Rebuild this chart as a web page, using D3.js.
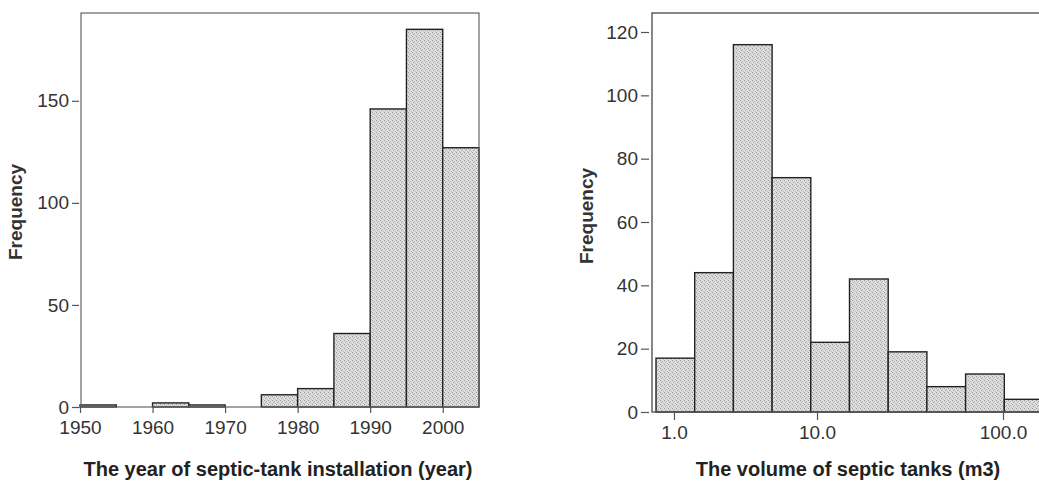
<!DOCTYPE html>
<html>
<head>
<meta charset="utf-8">
<script src="https://cdn.jsdelivr.net/npm/d3@7"></script>
<style>
  body { margin: 0; background: #fff; }
  svg { display: block; font-family: "Liberation Sans", Arial, sans-serif; }
</style>
</head>
<body>
<div id="chart"></div>
<script>
// left histogram: year of installation, 5-year bins
const yearBinStarts = [1950, 1955, 1960, 1965, 1970, 1975, 1980, 1985, 1990, 1995, 2000];
const yearCounts = [1, 0, 2, 1, 0, 6, 9, 36, 146, 185, 127];
const yearTicks = [1950, 1960, 1970, 1980, 1990, 2000];
const yearFreqTicks = [0, 50, 100, 150];

// right histogram: tank volume, equal-width bins on the log axis
const volumeCounts = [17, 44, 116, 74, 22, 42, 19, 8, 12, 4];
const volumeTicks = [1, 10, 100];
const volumeFreqTicks = [0, 20, 40, 60, 80, 100, 120];

const W = 1039, H = 482;
const svg = d3.select('#chart').append('svg')
    .attr('width', W)
    .attr('height', H);

// stipple texture for the bars
const pat = svg.append('defs').append('pattern')
    .attr('id', 'stipple')
    .attr('width', 4).attr('height', 4)
    .attr('patternUnits', 'userSpaceOnUse');
pat.append('rect').attr('width', 4).attr('height', 4).attr('fill', '#dedede');
[[0, 0, '#9a9a9a'], [2, 1, '#b0b0b0'], [1, 2, '#a5a5a5'], [3, 3, '#bdbdbd']].forEach(p => {
    pat.append('rect').attr('x', p[0]).attr('y', p[1])
        .attr('width', 1).attr('height', 1).attr('fill', p[2]);
});

function styleAxis(g) {
    g.select('.domain').remove();
    g.selectAll('.tick line').attr('stroke', '#555').attr('stroke-width', 1.2);
    g.selectAll('.tick text')
        .attr('fill', '#333')
        .style('font-size', '19px');
}

// ---------- left chart ----------
const x1 = d3.scaleLinear().domain([1950, 2005]).range([80, 479]);
const y1 = d3.scaleLinear().domain([0, 193]).range([407, 13]);

const left = svg.append('g');

left.selectAll('rect.bar')
    .data(yearBinStarts.map((s, i) => ({ start: s, count: yearCounts[i] })))
    .enter().append('rect')
    .attr('class', 'bar')
    .attr('x', d => x1(d.start))
    .attr('width', d => x1(d.start + 5) - x1(d.start))
    .attr('y', d => y1(d.count))
    .attr('height', d => y1(0) - y1(d.count))
    .attr('fill', 'url(#stipple)')
    .attr('stroke', '#222')
    .attr('stroke-width', 1.4);

// frame
left.append('rect')
    .attr('x', 81).attr('y', y1.range()[1])
    .attr('width', x1(2005) - 81).attr('height', y1(0) - y1.range()[1])
    .attr('fill', 'none')
    .attr('stroke', '#666')
    .attr('stroke-width', 1.2);

left.append('g')
    .attr('transform', 'translate(79,0)')
    .call(d3.axisLeft(y1).tickValues(yearFreqTicks).tickSize(7).tickPadding(3))
    .call(styleAxis);

left.append('g')
    .attr('transform', `translate(0,${y1(0)})`)
    .call(d3.axisBottom(x1).tickValues(yearTicks).tickFormat(d3.format('d')).tickSize(6).tickPadding(8))
    .call(styleAxis);

left.append('text')
    .attr('transform', 'translate(22,212) rotate(-90)')
    .attr('text-anchor', 'middle')
    .attr('fill', '#333')
    .style('font-size', '19px')
    .style('font-weight', 'bold')
    .text('Frequency');

left.append('text')
    .attr('x', 278).attr('y', 476)
    .attr('text-anchor', 'middle')
    .attr('fill', '#222')
    .style('font-size', '20px')
    .style('font-weight', 'bold')
    .text('The year of septic-tank installation (year)');

// ---------- right chart ----------
const binX = d3.scaleLinear().domain([0, volumeCounts.length]).range([656, 1043]);
const x2 = d3.scaleLog().domain([1, 10, 100]).range([674, 817, 1003]);
const y2 = d3.scaleLinear().domain([0, 126]).range([412, 13]);

const right = svg.append('g');

right.selectAll('rect.bar')
    .data(volumeCounts)
    .enter().append('rect')
    .attr('class', 'bar')
    .attr('x', (d, i) => binX(i))
    .attr('width', (d, i) => binX(i + 1) - binX(i))
    .attr('y', d => y2(d))
    .attr('height', d => y2(0) - y2(d))
    .attr('fill', 'url(#stipple)')
    .attr('stroke', '#222')
    .attr('stroke-width', 1.4);

right.append('rect')
    .attr('x', 652).attr('y', y2.range()[1])
    .attr('width', 420).attr('height', y2(0) - y2.range()[1])
    .attr('fill', 'none')
    .attr('stroke', '#555')
    .attr('stroke-width', 1.4);

right.append('g')
    .attr('transform', 'translate(649,0)')
    .call(d3.axisLeft(y2).tickValues(volumeFreqTicks).tickSize(8).tickPadding(3))
    .call(styleAxis);

right.append('g')
    .attr('transform', `translate(0,${y2(0)})`)
    .call(d3.axisBottom(x2).tickValues(volumeTicks).tickFormat(d3.format('.1f')).tickSize(8).tickPadding(6))
    .call(styleAxis);

right.append('text')
    .attr('transform', 'translate(593,216) rotate(-90)')
    .attr('text-anchor', 'middle')
    .attr('fill', '#333')
    .style('font-size', '19px')
    .style('font-weight', 'bold')
    .text('Frequency');

right.append('text')
    .attr('x', 848).attr('y', 476)
    .attr('text-anchor', 'middle')
    .attr('fill', '#222')
    .style('font-size', '20px')
    .style('font-weight', 'bold')
    .text('The volume of septic tanks (m3)');
</script>
</body>
</html>
